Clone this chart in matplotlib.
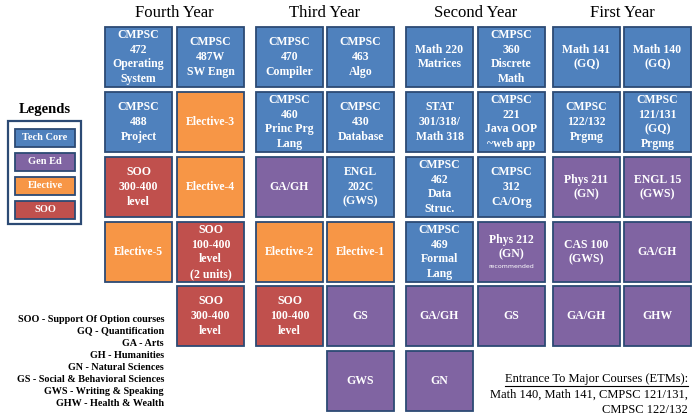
import matplotlib
matplotlib.use("Agg")
import matplotlib.pyplot as plt
from matplotlib.patches import Rectangle

# colours (Office-like palette)
COLORS = {"core": "#4F81BD", "gened": "#8064A2", "elective": "#F79646", "soo": "#C0504D"}
EDGE = "#2C4A74"

years = ["Fourth Year", "Third Year", "Second Year", "First Year"]

# columns left to right, rows top to bottom; None = empty slot
col_texts = [
    ["CMPSC\n472\nOperating\nSystem", "CMPSC\n488\nProject", "SOO\n300-400\nlevel", "Elective-5", None, None],
    ["CMPSC\n487W\nSW Engn", "Elective-3", "Elective-4", "SOO\n100-400\nlevel\n(2 units)", "SOO\n300-400\nlevel", None],
    ["CMPSC\n470\nCompiler", "CMPSC\n460\nPrinc Prg\nLang", "GA/GH", "Elective-2", "SOO\n100-400\nlevel", None],
    ["CMPSC\n463\nAlgo", "CMPSC\n430\nDatabase", "ENGL\n202C\n(GWS)", "Elective-1", "GS", "GWS"],
    ["Math 220\nMatrices", "STAT\n301/318/\nMath 318", "CMPSC\n462\nData\nStruc.", "CMPSC\n469\nFormal\nLang", "GA/GH", "GN"],
    ["CMPSC\n360\nDiscrete\nMath", "CMPSC\n221\nJava OOP\n~web app", "CMPSC\n312\nCA/Org", "Phys 212\n(GN)", "GS", None],
    ["Math 141\n(GQ)", "CMPSC\n122/132\nPrgmg", "Phys 211\n(GN)", "CAS 100\n(GWS)", "GA/GH", None],
    ["Math 140\n(GQ)", "CMPSC\n121/131\n(GQ)\nPrgmg", "ENGL 15\n(GWS)", "GA/GH", "GHW", None],
]
col_kinds = [
    ["core", "core", "soo", "elective", None, None],
    ["core", "elective", "elective", "soo", "soo", None],
    ["core", "core", "gened", "elective", "soo", None],
    ["core", "core", "core", "elective", "gened", "gened"],
    ["core", "core", "core", "core", "gened", "gened"],
    ["core", "core", "core", "gened", "gened", None],
    ["core", "core", "gened", "gened", "gened", None],
    ["core", "core", "gened", "gened", "gened", None],
]

legend_labels = ["Tech Core", "Gen Ed", "Elective", "SOO"]
legend_kinds = ["core", "gened", "elective", "soo"]

abbreviations = [
    "SOO - Support Of Option courses",
    "GQ - Quantification",
    "GA - Arts",
    "GH - Humanities",
    "GN - Natural Sciences",
    "GS - Social & Behavioral Sciences",
    "GWS - Writing & Speaking",
    "GHW - Health & Wealth",
]

etm_title = "Entrance To Major Courses (ETMs):"
etm_lines = ["Math 140, Math 141, CMPSC 121/131,", "CMPSC 122/132"]

# layout
col_x = [105, 177, 256, 327, 406, 478, 553, 624]
row_y = [27, 92, 157, 222, 286, 351]
W, H = 67, 60

fig = plt.figure(figsize=(7, 4.2), dpi=100)
ax = fig.add_axes([0, 0, 1, 1])
ax.set_xlim(0, 700)
ax.set_ylim(420, 0)
ax.axis("off")

SERIF = "Liberation Serif"

for i, y in enumerate(years):
    cx = (col_x[2 * i] + col_x[2 * i + 1] + W) / 2
    ax.text(cx, 13, y, ha="center", va="center", fontsize=12, family=SERIF)

for c, (texts, kinds) in enumerate(zip(col_texts, col_kinds)):
    for r, (t, k) in enumerate(zip(texts, kinds)):
        if k is None:
            continue
        ax.add_patch(Rectangle((col_x[c], row_y[r]), W, H, facecolor=COLORS[k],
                               edgecolor=EDGE, lw=1.3))
        if t.startswith("Phys 212"):
            ax.text(col_x[c] + W / 2, row_y[r] + H / 2 - 5, t, ha="center", va="center",
                    color="white", fontsize=8.5, family=SERIF, fontweight="bold", linespacing=1.3)
            ax.text(col_x[c] + W / 2, row_y[r] + H / 2 + 15, "recommended", ha="center",
                    va="center", color="white", fontsize=4.5)
        else:
            ax.text(col_x[c] + W / 2, row_y[r] + H / 2, t, ha="center", va="center",
                    color="white", fontsize=8.5, family=SERIF, fontweight="bold", linespacing=1.3)

# legend
ax.text(45, 109, "Legends", ha="center", va="center", fontsize=10.5, family=SERIF,
        fontweight="bold")
ax.add_patch(Rectangle((8, 121), 73, 103, facecolor="white", edgecolor=EDGE, lw=1.6))
leg_y = [129, 153, 177, 201]
for y, lab, k in zip(leg_y, legend_labels, legend_kinds):
    ax.add_patch(Rectangle((15, y), 60, 18, facecolor=COLORS[k], edgecolor=EDGE, lw=1.3))
    ax.text(45, y + 9, lab, ha="center", va="center", color="white", fontsize=7.5,
            family=SERIF, fontweight="bold")

# abbreviations
for i, line in enumerate(abbreviations):
    ax.text(164, 319 + 12 * i, line, ha="right", va="center", fontsize=7.3,
            family=SERIF, fontweight="bold")

# ETMs
title = ax.text(688, 379, etm_title, ha="right", va="center", fontsize=9, family=SERIF)
for i, line in enumerate(etm_lines):
    ax.text(688, 395 + 15 * i, line, ha="right", va="center", fontsize=9, family=SERIF)

# underline the ETM title across its measured width
fig.canvas.draw()
bb = title.get_window_extent().transformed(ax.transData.inverted())
x0, x1 = min(bb.x0, bb.x1), max(bb.x0, bb.x1)
ax.plot([x0, x1], [385.5, 385.5], color="black", lw=0.8)

fig.savefig("out.png", dpi=100, facecolor="white")
